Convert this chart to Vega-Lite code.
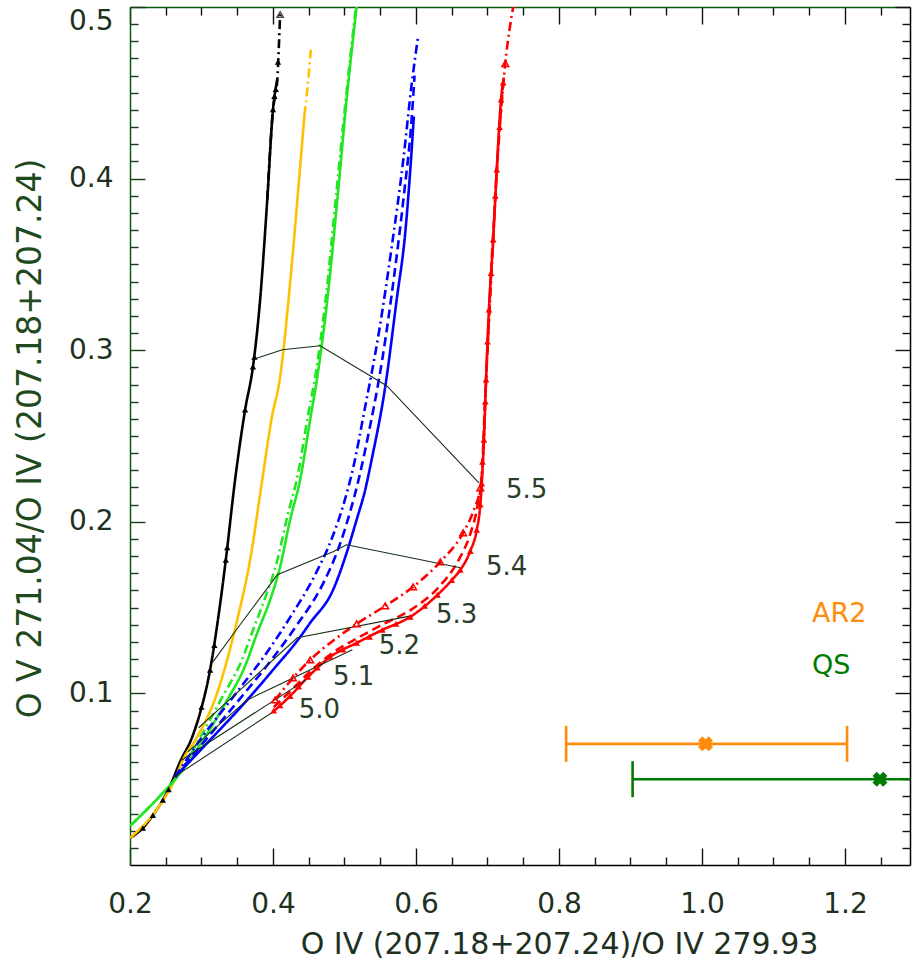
{
  "$schema": "https://vega.github.io/schema/vega-lite/v6.json",
  "width": 780,
  "height": 858,
  "autosize": {"type": "none"},
  "padding": {"left": 130, "top": 7, "right": 2, "bottom": 94},
  "background": "white",
  "config": {"view": {"stroke": null}, "font": "DejaVu Sans"},
  "resolve": {"axis": {"x": "independent", "y": "independent"}, "scale": {"color": "independent", "strokeDash": "independent"}},
  "datasets": {
    "curves": [
      {"s":"black","i":0,"x":0.200,"y":0.0157},{"s":"black","i":1,"x":0.218,"y":0.0216},{"s":"black","i":2,"x":0.232,"y":0.0290},{"s":"black","i":3,"x":0.246,"y":0.0379},{"s":"black","i":4,"x":0.258,"y":0.0480},{"s":"black","i":5,"x":0.270,"y":0.0601},{"s":"black","i":6,"x":0.287,"y":0.0746},{"s":"black","i":7,"x":0.298,"y":0.0886},{"s":"black","i":8,"x":0.312,"y":0.1137},{"s":"black","i":9,"x":0.323,"y":0.1429},{"s":"black","i":10,"x":0.334,"y":0.1778},{"s":"black","i":11,"x":0.347,"y":0.2245},{"s":"black","i":12,"x":0.361,"y":0.2653},{"s":"black","i":13,"x":0.372,"y":0.2904},{"s":"black","i":14,"x":0.382,"y":0.3294},{"s":"black","i":15,"x":0.392,"y":0.3878},{"s":"black","i":16,"x":0.400,"y":0.4402},{"s":"black","i":17,"x":0.406,"y":0.4577},
      {"s":"black dash-dot","i":0,"x":0.392,"y":0.3878},{"s":"black dash-dot","i":1,"x":0.400,"y":0.4400},{"s":"black dash-dot","i":2,"x":0.406,"y":0.4577},{"s":"black dash-dot","i":3,"x":0.408,"y":0.4750},{"s":"black dash-dot","i":4,"x":0.410,"y":0.4956},
      {"s":"orange","i":0,"x":0.200,"y":0.0157},{"s":"orange","i":1,"x":0.242,"y":0.0350},{"s":"orange","i":2,"x":0.263,"y":0.0501},{"s":"orange","i":3,"x":0.274,"y":0.0612},{"s":"orange","i":4,"x":0.294,"y":0.0746},{"s":"orange","i":5,"x":0.322,"y":0.1003},{"s":"orange","i":6,"x":0.350,"y":0.1429},{"s":"orange","i":7,"x":0.368,"y":0.1778},{"s":"orange","i":8,"x":0.385,"y":0.2245},{"s":"orange","i":9,"x":0.398,"y":0.2600},{"s":"orange","i":10,"x":0.410,"y":0.2845},{"s":"orange","i":11,"x":0.424,"y":0.3394},{"s":"orange","i":12,"x":0.438,"y":0.4070},{"s":"orange","i":13,"x":0.444,"y":0.4370},
      {"s":"orange dash-dot","i":0,"x":0.444,"y":0.4370},{"s":"orange dash-dot","i":1,"x":0.448,"y":0.4520},{"s":"orange dash-dot","i":2,"x":0.453,"y":0.4752},
      {"s":"green","i":0,"x":0.200,"y":0.0227},{"s":"green","i":1,"x":0.246,"y":0.0420},{"s":"green","i":2,"x":0.266,"y":0.0513},{"s":"green","i":3,"x":0.298,"y":0.0700},{"s":"green","i":4,"x":0.336,"y":0.0962},{"s":"green","i":5,"x":0.360,"y":0.1150},{"s":"green","i":6,"x":0.378,"y":0.1353},{"s":"green","i":7,"x":0.396,"y":0.1545},{"s":"green","i":8,"x":0.410,"y":0.1738},{"s":"green","i":9,"x":0.424,"y":0.2012},{"s":"green","i":10,"x":0.438,"y":0.2245},{"s":"green","i":11,"x":0.452,"y":0.2595},{"s":"green","i":12,"x":0.462,"y":0.2845},{"s":"green","i":13,"x":0.476,"y":0.3294},{"s":"green","i":14,"x":0.490,"y":0.3878},{"s":"green","i":15,"x":0.503,"y":0.4461},{"s":"green","i":16,"x":0.517,"y":0.5003},
      {"s":"green dash-dot","i":0,"x":0.200,"y":0.0227},{"s":"green dash-dot","i":1,"x":0.246,"y":0.0420},{"s":"green dash-dot","i":2,"x":0.266,"y":0.0513},{"s":"green dash-dot","i":3,"x":0.295,"y":0.0720},{"s":"green dash-dot","i":4,"x":0.330,"y":0.0985},{"s":"green dash-dot","i":5,"x":0.355,"y":0.1180},{"s":"green dash-dot","i":6,"x":0.373,"y":0.1380},{"s":"green dash-dot","i":7,"x":0.391,"y":0.1580},{"s":"green dash-dot","i":8,"x":0.405,"y":0.1760},{"s":"green dash-dot","i":9,"x":0.420,"y":0.2030},{"s":"green dash-dot","i":10,"x":0.435,"y":0.2280},{"s":"green dash-dot","i":11,"x":0.449,"y":0.2620},{"s":"green dash-dot","i":12,"x":0.460,"y":0.2870},{"s":"green dash-dot","i":13,"x":0.474,"y":0.3310},{"s":"green dash-dot","i":14,"x":0.488,"y":0.3890},{"s":"green dash-dot","i":15,"x":0.502,"y":0.4470},{"s":"green dash-dot","i":16,"x":0.516,"y":0.5003},
      {"s":"blue","i":0,"x":0.263,"y":0.0513},{"s":"blue","i":1,"x":0.308,"y":0.0711},{"s":"blue","i":2,"x":0.364,"y":0.0962},{"s":"blue","i":3,"x":0.400,"y":0.1137},{"s":"blue","i":4,"x":0.438,"y":0.1329},{"s":"blue","i":5,"x":0.452,"y":0.1411},{"s":"blue","i":6,"x":0.484,"y":0.1603},{"s":"blue","i":7,"x":0.503,"y":0.1819},{"s":"blue","i":8,"x":0.517,"y":0.2012},{"s":"blue","i":9,"x":0.529,"y":0.2187},{"s":"blue","i":10,"x":0.538,"y":0.2362},{"s":"blue","i":11,"x":0.557,"y":0.2787},{"s":"blue","i":12,"x":0.573,"y":0.3294},{"s":"blue","i":13,"x":0.585,"y":0.3685},{"s":"blue","i":14,"x":0.594,"y":0.4169},{"s":"blue","i":15,"x":0.597,"y":0.4362},
      {"s":"blue dashed","i":0,"x":0.263,"y":0.0513},{"s":"blue dashed","i":1,"x":0.305,"y":0.0725},{"s":"blue dashed","i":2,"x":0.357,"y":0.0985},{"s":"blue dashed","i":3,"x":0.395,"y":0.1180},{"s":"blue dashed","i":4,"x":0.432,"y":0.1390},{"s":"blue dashed","i":5,"x":0.470,"y":0.1640},{"s":"blue dashed","i":6,"x":0.492,"y":0.1850},{"s":"blue dashed","i":7,"x":0.508,"y":0.2060},{"s":"blue dashed","i":8,"x":0.520,"y":0.2250},{"s":"blue dashed","i":9,"x":0.533,"y":0.2500},{"s":"blue dashed","i":10,"x":0.553,"y":0.2950},{"s":"blue dashed","i":11,"x":0.570,"y":0.3450},{"s":"blue dashed","i":12,"x":0.583,"y":0.3900},{"s":"blue dashed","i":13,"x":0.594,"y":0.4350},{"s":"blue dashed","i":14,"x":0.598,"y":0.4600},
      {"s":"blue dash-dot","i":0,"x":0.263,"y":0.0513},{"s":"blue dash-dot","i":1,"x":0.300,"y":0.0740},{"s":"blue dash-dot","i":2,"x":0.350,"y":0.1010},{"s":"blue dash-dot","i":3,"x":0.390,"y":0.1230},{"s":"blue dash-dot","i":4,"x":0.425,"y":0.1450},{"s":"blue dash-dot","i":5,"x":0.460,"y":0.1700},{"s":"blue dash-dot","i":6,"x":0.482,"y":0.1900},{"s":"blue dash-dot","i":7,"x":0.500,"y":0.2120},{"s":"blue dash-dot","i":8,"x":0.513,"y":0.2330},{"s":"blue dash-dot","i":9,"x":0.528,"y":0.2650},{"s":"blue dash-dot","i":10,"x":0.548,"y":0.3100},{"s":"blue dash-dot","i":11,"x":0.566,"y":0.3600},{"s":"blue dash-dot","i":12,"x":0.582,"y":0.4100},{"s":"blue dash-dot","i":13,"x":0.594,"y":0.4550},{"s":"blue dash-dot","i":14,"x":0.603,"y":0.4830},
      {"s":"red","i":0,"x":0.400,"y":0.0892},{"s":"red","i":1,"x":0.424,"y":0.0985},{"s":"red","i":2,"x":0.449,"y":0.1096},{"s":"red","i":3,"x":0.480,"y":0.1213},{"s":"red","i":4,"x":0.517,"y":0.1294},{"s":"red","i":5,"x":0.553,"y":0.1370},{"s":"red","i":6,"x":0.592,"y":0.1446},{"s":"red","i":7,"x":0.630,"y":0.1574},{"s":"red","i":8,"x":0.650,"y":0.1660},{"s":"red","i":9,"x":0.662,"y":0.1720},{"s":"red","i":10,"x":0.676,"y":0.1830},{"s":"red","i":11,"x":0.685,"y":0.1953},{"s":"red","i":12,"x":0.690,"y":0.2100},{"s":"red","i":13,"x":0.692,"y":0.2222},{"s":"red","i":14,"x":0.695,"y":0.2478},{"s":"red","i":15,"x":0.698,"y":0.2828},{"s":"red","i":16,"x":0.702,"y":0.3236},{"s":"red","i":17,"x":0.708,"y":0.3644},{"s":"red","i":18,"x":0.713,"y":0.4052},{"s":"red","i":19,"x":0.719,"y":0.4461},{"s":"red","i":20,"x":0.723,"y":0.4589},
      {"s":"red dashed","i":0,"x":0.401,"y":0.0920},{"s":"red dashed","i":1,"x":0.426,"y":0.1020},{"s":"red dashed","i":2,"x":0.450,"y":0.1120},{"s":"red dashed","i":3,"x":0.483,"y":0.1235},{"s":"red dashed","i":4,"x":0.517,"y":0.1320},{"s":"red dashed","i":5,"x":0.555,"y":0.1405},{"s":"red dashed","i":6,"x":0.594,"y":0.1490},{"s":"red dashed","i":7,"x":0.632,"y":0.1620},{"s":"red dashed","i":8,"x":0.660,"y":0.1780},{"s":"red dashed","i":9,"x":0.676,"y":0.1930},{"s":"red dashed","i":10,"x":0.686,"y":0.2090},{"s":"red dashed","i":11,"x":0.692,"y":0.2260},{"s":"red dashed","i":12,"x":0.696,"y":0.2650},{"s":"red dashed","i":13,"x":0.700,"y":0.3000},{"s":"red dashed","i":14,"x":0.705,"y":0.3450},{"s":"red dashed","i":15,"x":0.711,"y":0.3900},{"s":"red dashed","i":16,"x":0.717,"y":0.4300},{"s":"red dashed","i":17,"x":0.722,"y":0.4550},
      {"s":"red dash-dot","i":0,"x":0.403,"y":0.0962},{"s":"red dash-dot","i":1,"x":0.428,"y":0.1090},{"s":"red dash-dot","i":2,"x":0.452,"y":0.1195},{"s":"red dash-dot","i":3,"x":0.485,"y":0.1310},{"s":"red dash-dot","i":4,"x":0.517,"y":0.1405},{"s":"red dash-dot","i":5,"x":0.557,"y":0.1510},{"s":"red dash-dot","i":6,"x":0.596,"y":0.1621},{"s":"red dash-dot","i":7,"x":0.634,"y":0.1767},{"s":"red dash-dot","i":8,"x":0.666,"y":0.1936},{"s":"red dash-dot","i":9,"x":0.681,"y":0.2070},{"s":"red dash-dot","i":10,"x":0.690,"y":0.2198},{"s":"red dash-dot","i":11,"x":0.695,"y":0.2478},{"s":"red dash-dot","i":12,"x":0.698,"y":0.2828},{"s":"red dash-dot","i":13,"x":0.703,"y":0.3236},{"s":"red dash-dot","i":14,"x":0.708,"y":0.3644},{"s":"red dash-dot","i":15,"x":0.713,"y":0.4052},{"s":"red dash-dot","i":16,"x":0.718,"y":0.4344},{"s":"red dash-dot","i":17,"x":0.724,"y":0.4636},{"s":"red dash-dot","i":18,"x":0.733,"y":0.4927},{"s":"red dash-dot","i":19,"x":0.736,"y":0.5000}
    ],
    "iso": [
      {"t":"5.0","i":0,"x":0.263,"y":0.0513},{"t":"5.0","i":1,"x":0.266,"y":0.0525},{"t":"5.0","i":2,"x":0.400,"y":0.0892},
      {"t":"5.1","i":0,"x":0.272,"y":0.0610},{"t":"5.1","i":1,"x":0.290,"y":0.0660},{"t":"5.1","i":2,"x":0.446,"y":0.1079},
      {"t":"5.2","i":0,"x":0.281,"y":0.0660},{"t":"5.2","i":1,"x":0.298,"y":0.0720},{"t":"5.2","i":2,"x":0.364,"y":0.0962},{"t":"5.2","i":3,"x":0.511,"y":0.1254},
      {"t":"5.3","i":0,"x":0.296,"y":0.0800},{"t":"5.3","i":1,"x":0.333,"y":0.0940},{"t":"5.3","i":2,"x":0.434,"y":0.1324},{"t":"5.3","i":3,"x":0.593,"y":0.1452},
      {"t":"5.4","i":0,"x":0.316,"y":0.1184},{"t":"5.4","i":1,"x":0.354,"y":0.1400},{"t":"5.4","i":2,"x":0.406,"y":0.1691},{"t":"5.4","i":3,"x":0.484,"y":0.1825},{"t":"5.4","i":4,"x":0.503,"y":0.1866},{"t":"5.4","i":5,"x":0.662,"y":0.1732},
      {"t":"5.5","i":0,"x":0.375,"y":0.2950},{"t":"5.5","i":1,"x":0.413,"y":0.3003},{"t":"5.5","i":2,"x":0.466,"y":0.3026},{"t":"5.5","i":3,"x":0.559,"y":0.2793},{"t":"5.5","i":4,"x":0.688,"y":0.2227}
    ],
    "blackTri": [
      {"x":0.218,"y":0.0216},{"x":0.232,"y":0.0290},{"x":0.246,"y":0.0379},{"x":0.254,"y":0.0440},{"x":0.300,"y":0.0920},{"x":0.312,"y":0.1137},{"x":0.318,"y":0.1280},{"x":0.334,"y":0.1778},{"x":0.336,"y":0.1850},{"x":0.361,"y":0.2653},{"x":0.372,"y":0.2904},{"x":0.374,"y":0.2960},{"x":0.400,"y":0.4402},{"x":0.402,"y":0.4480},{"x":0.404,"y":0.4520},{"x":0.407,"y":0.4680}
    ],
    "blackOpen": [{"x":0.410,"y":0.4956}],
    "redTri": [
      {"x":0.401,"y":0.0900},{"x":0.410,"y":0.0930},{"x":0.424,"y":0.0985},{"x":0.436,"y":0.1040},{"x":0.449,"y":0.1096},{"x":0.462,"y":0.1150},{"x":0.480,"y":0.1213},{"x":0.498,"y":0.1255},{"x":0.517,"y":0.1294},{"x":0.535,"y":0.1330},{"x":0.553,"y":0.1370},{"x":0.572,"y":0.1405},{"x":0.592,"y":0.1446},{"x":0.612,"y":0.1510},{"x":0.630,"y":0.1574},{"x":0.650,"y":0.1660},{"x":0.662,"y":0.1720},{"x":0.676,"y":0.1830},{"x":0.685,"y":0.1953},{"x":0.690,"y":0.2100},{"x":0.692,"y":0.2222},{"x":0.693,"y":0.2350},{"x":0.695,"y":0.2478},{"x":0.697,"y":0.2700},{"x":0.698,"y":0.2828},{"x":0.700,"y":0.3050},{"x":0.702,"y":0.3236},{"x":0.705,"y":0.3450},{"x":0.708,"y":0.3644},{"x":0.711,"y":0.3900},{"x":0.713,"y":0.4052},{"x":0.717,"y":0.4300},{"x":0.719,"y":0.4461},{"x":0.722,"y":0.4560}
    ],
    "redOpen": [
      {"x":0.403,"y":0.0962},{"x":0.428,"y":0.1090},{"x":0.452,"y":0.1195},{"x":0.517,"y":0.1405},{"x":0.557,"y":0.1510},{"x":0.596,"y":0.1621},{"x":0.634,"y":0.1767},{"x":0.666,"y":0.1936},{"x":0.690,"y":0.2198},{"x":0.725,"y":0.4670}
    ],
    "err": [
      {"name":"AR2","x":1.005,"lo":0.810,"hi":1.203,"y":0.0706},
      {"name":"QS","x":1.249,"lo":0.903,"hi":1.600,"y":0.0500}
    ],
    "tlabels": [
      {"t":"5.0","x":0.436,"y":0.0904},{"t":"5.1","x":0.484,"y":0.1096},{"t":"5.2","x":0.548,"y":0.1277},{"t":"5.3","x":0.628,"y":0.1458},{"t":"5.4","x":0.698,"y":0.1738},{"t":"5.5","x":0.726,"y":0.2187}
    ],
    "legend": [
      {"name":"AR2","x":1.154,"y":0.1464},{"name":"QS","x":1.154,"y":0.1160}
    ]
  },
  "layer": [
    {
      "data": {"name": "curves"},
      "mark": {"type": "line", "clip": true, "strokeWidth": 2.6, "interpolate": "monotone"},
      "encoding": {
        "x": {"field": "x", "type": "quantitative", "scale": {"domain": [0.2, 1.291], "nice": false, "zero": false},
          "axis": {"orient": "bottom", "values": [0.2,0.25,0.3,0.35,0.4,0.45,0.5,0.55,0.6,0.65,0.7,0.75,0.8,0.85,0.9,0.95,1.0,1.05,1.1,1.15,1.2,1.25],
            "labelExpr": "abs(datum.value*5 - round(datum.value*5)) < 0.001 ? format(datum.value, '.1f') : ''",
            "labelOverlap": false, "labelBound": false, "labelFlush": false,
            "ticks": true, "tickSize": {"condition": {"test": "abs(datum.value*5 - round(datum.value*5)) < 0.001", "value": -17}, "value": -8}, "tickColor": "#111111", "tickWidth": 1.4,
            "grid": false, "domainColor": "#000000", "domainWidth": 1.5,
            "labelFont": "DejaVu Sans", "labelFontSize": 28, "labelColor": "#1e301e", "labelBaseline": "alphabetic", "labelPadding": 64,
            "title": "O IV (207.18+207.24)/O IV 279.93", "titleFont": "DejaVu Sans", "titleFontSize": 30, "titleFontWeight": "normal", "titleColor": "#1e301e",
            "titleX": 429, "titleY": 88, "titleAlign": "center", "titleBaseline": "alphabetic"}},
        "y": {"field": "y", "type": "quantitative", "scale": {"domain": [0, 0.5], "nice": false, "zero": false},
          "axis": {"orient": "left", "values": [0.01,0.02,0.03,0.04,0.05,0.06,0.07,0.08,0.09,0.1,0.11,0.12,0.13,0.14,0.15,0.16,0.17,0.18,0.19,0.2,0.21,0.22,0.23,0.24,0.25,0.26,0.27,0.28,0.29,0.3,0.31,0.32,0.33,0.34,0.35,0.36,0.37,0.38,0.39,0.4,0.41,0.42,0.43,0.44,0.45,0.46,0.47,0.48,0.49,0.5],
            "labelExpr": "abs(datum.value*10 - round(datum.value*10)) < 0.001 ? format(datum.value, '.1f') : ''",
            "labelOverlap": false, "labelBound": false, "labelFlush": true,
            "ticks": true, "tickSize": {"condition": {"test": "abs(datum.value*10 - round(datum.value*10)) < 0.001", "value": -15}, "value": -8}, "tickColor": "#1a3a1a", "tickWidth": 1.4,
            "grid": false, "domainColor": "#0a5a0a", "domainWidth": 1.5,
            "labelFont": "DejaVu Sans", "labelFontSize": 28, "labelColor": "#1e301e", "labelPadding": 32,
            "title": "O V 271.04/O IV (207.18+207.24)", "titleFont": "DejaVu Sans", "titleFontSize": 33, "titleFontWeight": "normal", "titleColor": "#1e4a1e",
            "titleAngle": -90, "titleX": -90, "titleY": 431, "titleAlign": "center", "titleBaseline": "alphabetic"}},
        "color": {"field": "s", "type": "nominal", "legend": null,
          "scale": {"domain": ["black","black dash-dot","orange","orange dash-dot","green","green dash-dot","blue","blue dashed","blue dash-dot","red","red dashed","red dash-dot"],
                    "range": ["#000000","#000000","#FFC000","#FFC000","#22E622","#22E622","#0000FF","#0000FF","#0000FF","#FF0000","#FF0000","#FF0000"]}},
        "strokeDash": {"field": "s", "type": "nominal", "legend": null,
          "scale": {"domain": ["black","black dash-dot","orange","orange dash-dot","green","green dash-dot","blue","blue dashed","blue dash-dot","red","red dashed","red dash-dot"],
                    "range": [[1,0],[9,4,2,4],[1,0],[9,4,2,4],[1,0],[9,4,2,4],[1,0],[9,5],[9,4,2,4],[1,0],[9,5],[9,4,2,4]]}},
        "order": {"field": "i", "type": "quantitative"}
      }
    },
    {
      "data": {"name": "iso"},
      "mark": {"type": "line", "clip": true, "strokeWidth": 1.1, "color": "#173017"},
      "encoding": {
        "x": {"field": "x", "type": "quantitative", "scale": {"domain": [0.2, 1.291], "nice": false, "zero": false},
          "axis": {"orient": "top", "values": [0.2,0.25,0.3,0.35,0.4,0.45,0.5,0.55,0.6,0.65,0.7,0.75,0.8,0.85,0.9,0.95,1.0,1.05,1.1,1.15,1.2,1.25],
            "labels": false, "grid": false, "title": null,
            "ticks": true, "tickSize": {"condition": {"test": "abs(datum.value*5 - round(datum.value*5)) < 0.001", "value": -17}, "value": -8}, "tickColor": "#111111", "tickWidth": 1.4,
            "domainColor": "#0a5a0a", "domainWidth": 1.5}},
        "y": {"field": "y", "type": "quantitative", "scale": {"domain": [0, 0.5], "nice": false, "zero": false},
          "axis": {"orient": "right", "values": [0.01,0.02,0.03,0.04,0.05,0.06,0.07,0.08,0.09,0.1,0.11,0.12,0.13,0.14,0.15,0.16,0.17,0.18,0.19,0.2,0.21,0.22,0.23,0.24,0.25,0.26,0.27,0.28,0.29,0.3,0.31,0.32,0.33,0.34,0.35,0.36,0.37,0.38,0.39,0.4,0.41,0.42,0.43,0.44,0.45,0.46,0.47,0.48,0.49,0.5],
            "labels": false, "grid": false, "title": null,
            "ticks": true, "tickSize": {"condition": {"test": "abs(datum.value*10 - round(datum.value*10)) < 0.001", "value": -15}, "value": -8}, "tickColor": "#111111", "tickWidth": 1.4,
            "domainColor": "#000000", "domainWidth": 1.5}},
        "detail": {"field": "t", "type": "nominal"},
        "order": {"field": "i", "type": "quantitative"}
      }
    },
    {
      "data": {"name": "blackTri"},
      "mark": {"type": "point", "shape": "triangle-up", "filled": true, "size": 40, "color": "#000000", "opacity": 1, "clip": true},
      "encoding": {
        "x": {"field": "x", "type": "quantitative", "scale": {"domain": [0.2, 1.291], "nice": false, "zero": false}, "axis": null},
        "y": {"field": "y", "type": "quantitative", "scale": {"domain": [0, 0.5], "nice": false, "zero": false}, "axis": null}
      }
    },
    {
      "data": {"name": "redTri"},
      "mark": {"type": "point", "shape": "triangle-up", "filled": true, "size": 45, "color": "#FF0000", "opacity": 1, "clip": true},
      "encoding": {
        "x": {"field": "x", "type": "quantitative", "scale": {"domain": [0.2, 1.291], "nice": false, "zero": false}, "axis": null},
        "y": {"field": "y", "type": "quantitative", "scale": {"domain": [0, 0.5], "nice": false, "zero": false}, "axis": null}
      }
    },
    {
      "data": {"name": "redOpen"},
      "mark": {"type": "point", "shape": "triangle-up", "filled": false, "size": 45, "color": "#FF0000", "strokeWidth": 1.5, "opacity": 1, "clip": true},
      "encoding": {
        "x": {"field": "x", "type": "quantitative", "scale": {"domain": [0.2, 1.291], "nice": false, "zero": false}, "axis": null},
        "y": {"field": "y", "type": "quantitative", "scale": {"domain": [0, 0.5], "nice": false, "zero": false}, "axis": null}
      }
    },
    {
      "data": {"name": "blackOpen"},
      "mark": {"type": "point", "shape": "triangle-up", "filled": false, "size": 40, "color": "#000000", "strokeWidth": 1.5, "clip": true},
      "encoding": {
        "x": {"field": "x", "type": "quantitative", "scale": {"domain": [0.2, 1.291], "nice": false, "zero": false}, "axis": null},
        "y": {"field": "y", "type": "quantitative", "scale": {"domain": [0, 0.5], "nice": false, "zero": false}, "axis": null}
      }
    },
    {
      "data": {"name": "err"},
      "mark": {"type": "rule", "clip": true, "strokeWidth": 2.6},
      "encoding": {
        "x": {"field": "lo", "type": "quantitative", "scale": {"domain": [0.2, 1.291], "nice": false, "zero": false}, "axis": null},
        "x2": {"field": "hi"},
        "y": {"field": "y", "type": "quantitative", "scale": {"domain": [0, 0.5], "nice": false, "zero": false}, "axis": null},
        "color": {"field": "name", "type": "nominal", "legend": null, "scale": {"domain": ["AR2", "QS"], "range": ["#FF8C0A", "#007A00"]}}
      }
    },
    {
      "data": {"name": "err"},
      "mark": {"type": "tick", "orient": "vertical", "size": 36, "thickness": 2.6, "opacity": 1, "clip": true},
      "encoding": {
        "x": {"field": "lo", "type": "quantitative", "scale": {"domain": [0.2, 1.291], "nice": false, "zero": false}, "axis": null},
        "y": {"field": "y", "type": "quantitative", "scale": {"domain": [0, 0.5], "nice": false, "zero": false}, "axis": null},
        "color": {"field": "name", "type": "nominal", "legend": null, "scale": {"domain": ["AR2", "QS"], "range": ["#FF8C0A", "#007A00"]}}
      }
    },
    {
      "data": {"name": "err"},
      "mark": {"type": "tick", "orient": "vertical", "size": 36, "thickness": 2.6, "opacity": 1, "clip": true},
      "encoding": {
        "x": {"field": "hi", "type": "quantitative", "scale": {"domain": [0.2, 1.291], "nice": false, "zero": false}, "axis": null},
        "y": {"field": "y", "type": "quantitative", "scale": {"domain": [0, 0.5], "nice": false, "zero": false}, "axis": null},
        "color": {"field": "name", "type": "nominal", "legend": null, "scale": {"domain": ["AR2", "QS"], "range": ["#FF8C0A", "#007A00"]}}
      }
    },
    {
      "data": {"name": "err"},
      "mark": {"type": "point", "shape": "cross", "angle": 45, "filled": true, "size": 230, "opacity": 1, "clip": true},
      "encoding": {
        "x": {"field": "x", "type": "quantitative", "scale": {"domain": [0.2, 1.291], "nice": false, "zero": false}, "axis": null},
        "y": {"field": "y", "type": "quantitative", "scale": {"domain": [0, 0.5], "nice": false, "zero": false}, "axis": null},
        "color": {"field": "name", "type": "nominal", "legend": null, "scale": {"domain": ["AR2", "QS"], "range": ["#FF8C0A", "#007A00"]}}
      }
    },
    {
      "data": {"name": "tlabels"},
      "mark": {"type": "text", "align": "left", "baseline": "middle", "font": "DejaVu Sans", "fontSize": 26, "color": "#2a3d2a"},
      "encoding": {
        "x": {"field": "x", "type": "quantitative", "scale": {"domain": [0.2, 1.291], "nice": false, "zero": false}, "axis": null},
        "y": {"field": "y", "type": "quantitative", "scale": {"domain": [0, 0.5], "nice": false, "zero": false}, "axis": null},
        "text": {"field": "t", "type": "nominal"}
      }
    },
    {
      "data": {"name": "legend"},
      "mark": {"type": "text", "align": "left", "baseline": "middle", "font": "DejaVu Sans", "fontSize": 27},
      "encoding": {
        "x": {"field": "x", "type": "quantitative", "scale": {"domain": [0.2, 1.291], "nice": false, "zero": false}, "axis": null},
        "y": {"field": "y", "type": "quantitative", "scale": {"domain": [0, 0.5], "nice": false, "zero": false}, "axis": null},
        "text": {"field": "name", "type": "nominal"},
        "color": {"field": "name", "type": "nominal", "legend": null, "scale": {"domain": ["AR2", "QS"], "range": ["#FF8C0A", "#007A00"]}}
      }
    }
  ]
}
